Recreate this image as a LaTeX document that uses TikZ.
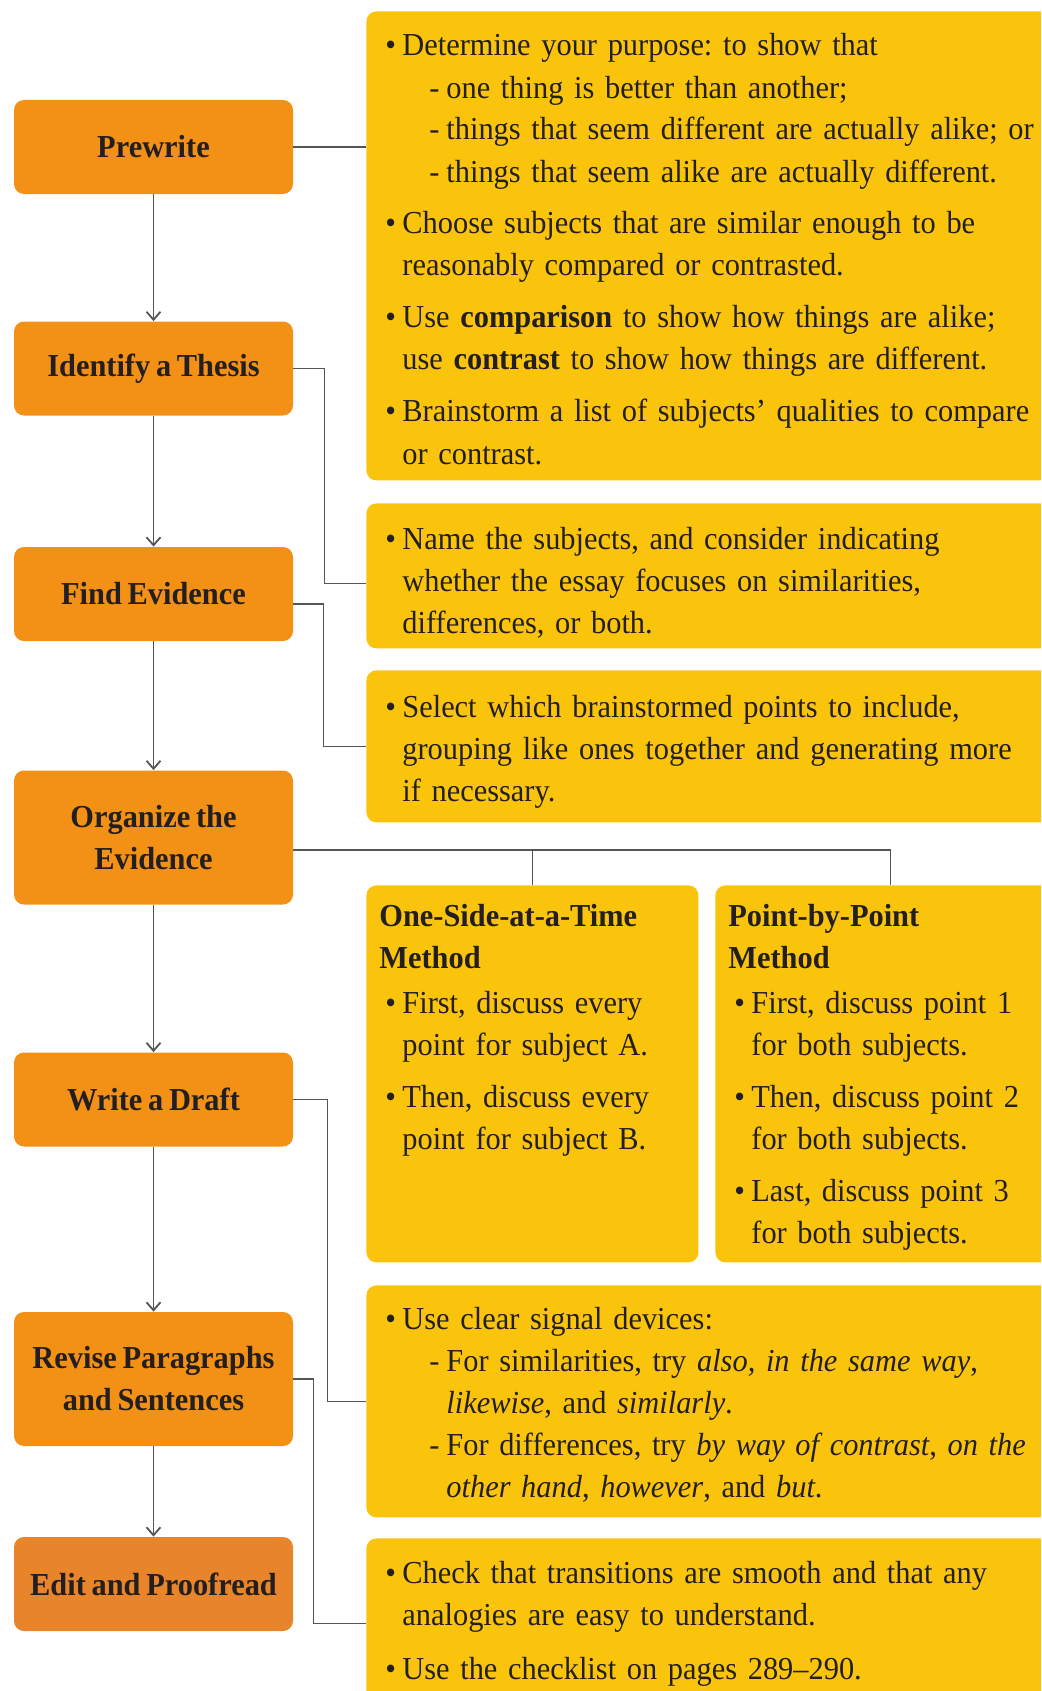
\documentclass[tikz,border=0pt]{standalone}
\usepackage{fontspec}
\setmainfont{Liberation Serif}[WordSpace=0.75,FakeStretch=0.95]
\usetikzlibrary{arrows.meta}

\definecolor{stageorange}{HTML}{F39116}
\definecolor{lastorange}{HTML}{E8842A}
\definecolor{noteyellow}{HTML}{FBC40C}
\definecolor{linkgray}{HTML}{555555}
\definecolor{inkblack}{HTML}{231F20}

\tikzstyle{stage} = [fill=stageorange,rounded corners=5pt,align=center,
                     minimum width=139.5pt,minimum height=47pt,inner sep=0pt,
                     text=inkblack,font=\fontsize{16}{21}\selectfont\bfseries]
\tikzstyle{note} = [fill=noteyellow,rounded corners=5pt,anchor=north west,
                    inner sep=0pt]
\tikzstyle{notetext} = [anchor=base west,inner sep=0pt,align=left,
                        text width=400pt,text=inkblack,
                        font=\fontsize{16}{21}\selectfont]
\tikzstyle{link} = [draw=linkgray,line width=0.9pt]
\tikzstyle{flow} = [link,-{Straight Barb[length=4pt,width=7pt]}]

\newcommand{\bul}{\makebox[8.5pt][l]{\textbullet}}
\newcommand{\cont}{\hspace*{8.5pt}}
\newcommand{\subdash}{\hspace*{22pt}\makebox[8.5pt][l]{-}}
\newcommand{\subcont}{\hspace*{30.5pt}}

\frenchspacing
\begin{document}
\begin{tikzpicture}[x=0.5pt,y=-0.5pt]
  \useasboundingbox (0,0) rectangle (1041,1691);
  \clip (0,0) rectangle (1041,1691);

  % steps
  \node[stage] at (153.5,147)    (pw) {Prewrite};
  \node[stage] at (153.5,368.5)  (it) {Identify a Thesis};
  \node[stage] at (153.5,594)    (fe) {Find Evidence};
  \node[stage,minimum height=67pt] at (153.5,837.5) (oe) {Organize the\\Evidence};
  \node[stage] at (153.5,1099.5) (wd) {Write a Draft};
  \node[stage,minimum height=67pt] at (153.5,1379) (rp) {Revise Paragraphs\\and Sentences};
  \node[stage,fill=lastorange] at (153.5,1584) (ep) {Edit and Proofread};

  % notes
  \node[note,minimum width=350pt,minimum height=234.5pt] at (366,11)   (pur) {};
  \node[note,minimum width=350pt,minimum height=72.5pt]  at (366,503)  (ths) {};
  \node[note,minimum width=350pt,minimum height=76pt]    at (366,670)  (evn) {};
  \node[note,minimum width=166pt,minimum height=188.5pt] at (366,885)  (sat) {};
  \node[note,minimum width=175pt,minimum height=188.5pt] at (715,885)  (pbp) {};
  \node[note,minimum width=350pt,minimum height=116pt]   at (366,1285) (sig) {};
  \node[note,minimum width=350pt,minimum height=85pt]    at (366,1538) (chk) {};

  \node[notetext] at (385,56) (purt) {%
    \bul Determine your purpose: to show that\\
    \subdash one thing is better than another;\\
    \subdash things that seem different are actually alike; or\\
    \subdash things that seem alike are actually different.\\[5pt]
    \bul Choose subjects that are similar enough to be\\
    \cont reasonably compared or contrasted.\\[5pt]
    \bul Use \textbf{comparison} to show how things are alike;\\
    \cont use \textbf{contrast} to show how things are different.\\[5pt]
    \bul Brainstorm a list of subjects' qualities to compare\\
    \cont or contrast.};
  \node[notetext] at (385,549) (thst) {%
    \bul Name the subjects, and consider indicating\\
    \cont whether the essay focuses on similarities,\\
    \cont differences, or both.};
  \node[notetext] at (385,717) (evnt) {%
    \bul Select which brainstormed points to include,\\
    \cont grouping like ones together and generating more\\
    \cont if necessary.};
  \node[notetext] at (385,926) (satt) {%
    \hspace*{-3pt}\textbf{One-Side-at-a-Time}\\
    \hspace*{-3pt}\textbf{Method}\\[1.5pt]
    \bul First, discuss every\\
    \cont point for subject A.\\[5pt]
    \bul Then, discuss every\\
    \cont point for subject B.};
  \node[notetext] at (734,926) (pbpt) {%
    \hspace*{-3pt}\textbf{Point-by-Point}\\
    \hspace*{-3pt}\textbf{Method}\\[1.5pt]
    \bul First, discuss point 1\\
    \cont for both subjects.\\[5pt]
    \bul Then, discuss point 2\\
    \cont for both subjects.\\[5pt]
    \bul Last, discuss point 3\\
    \cont for both subjects.};
  \node[notetext] at (385,1329) (sigt) {%
    \bul Use clear signal devices:\\
    \subdash For similarities, try \textit{also, in the same way},\\
    \subcont \textit{likewise}, and \textit{similarly}.\\
    \subdash For differences, try \textit{by way of contrast}, \textit{on the}\\
    \subcont \textit{other hand}, \textit{however}, and \textit{but}.};
  \node[notetext] at (385,1583) (chkt) {%
    \bul Check that transitions are smooth and that any\\
    \cont analogies are easy to understand.\\[6pt]
    \bul Use the checklist on pages 289--290.};

  % flow
  \draw[flow] (pw) -- (it);
  \draw[flow] (it) -- (fe);
  \draw[flow] (fe) -- (oe);
  \draw[flow] (oe) -- (wd);
  \draw[flow] (wd) -- (rp);
  \draw[flow] (rp) -- (ep);

  % links to the notes
  \draw[link] (pw.east) -- (pw.east -| pur.west);
  \draw[link] (it.east) -- ++(31,0) |- ([yshift=-3.75pt]ths.west);
  \draw[link] ([yshift=-5pt]fe.east) -- ++(30,0) |- (evn.west);
  \draw[link] ([yshift=-6.25pt]oe.east) -| (pbp.north);
  \draw[link] (sat.north) |- ([yshift=-6.25pt]oe.east);
  \draw[link] (wd.east) -- ++(34,0) |- (sig.west);
  \draw[link] (rp.east) -- ++(20,0) |- (chk.west);
\end{tikzpicture}
\end{document}
